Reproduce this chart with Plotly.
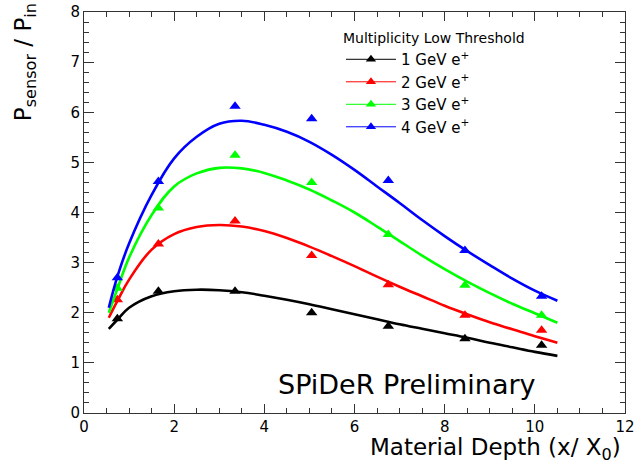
import plotly.graph_objects as go

# ---- data ----
x_pts = [0.74, 1.65, 3.35, 5.05, 6.75, 8.45, 10.15]
pts_1gev = [1.88, 2.43, 2.43, 2.00, 1.73, 1.48, 1.35]
pts_2gev = [2.26, 3.37, 3.83, 3.14, 2.56, 1.95, 1.65]
pts_3gev = [2.49, 4.09, 5.14, 4.60, 3.56, 2.55, 1.95]
pts_4gev = [2.70, 4.62, 6.12, 5.87, 4.64, 3.24, 2.33]

x_fit = [0.55, 0.75, 1.0, 1.5, 2.0, 2.5, 3.0, 3.5, 4.0, 4.5, 5.0, 5.5, 6.0, 6.5,
         7.0, 7.5, 8.0, 8.5, 9.0, 9.5, 10.0, 10.5]
fit_1gev = [1.68, 1.87, 2.10, 2.33, 2.43, 2.46, 2.45, 2.41, 2.34, 2.26, 2.17, 2.07,
            1.97, 1.87, 1.77, 1.68, 1.59, 1.50, 1.40, 1.31, 1.22, 1.14]
fit_2gev = [1.90, 2.25, 2.66, 3.26, 3.57, 3.71, 3.75, 3.72, 3.63, 3.49, 3.32, 3.13,
            2.93, 2.72, 2.52, 2.33, 2.14, 1.97, 1.81, 1.67, 1.53, 1.40]
fit_3gev = [2.00, 2.50, 3.10, 3.95, 4.52, 4.78, 4.89, 4.88, 4.79, 4.64, 4.46, 4.24,
            4.00, 3.72, 3.43, 3.14, 2.87, 2.62, 2.39, 2.18, 1.99, 1.80]
fit_4gev = [2.10, 2.75, 3.38, 4.35, 5.08, 5.51, 5.77, 5.83, 5.75, 5.61, 5.41, 5.15,
            4.85, 4.52, 4.19, 3.85, 3.53, 3.23, 2.95, 2.68, 2.44, 2.24]

series_names = ["1 GeV e<sup>+</sup>", "2 GeV e<sup>+</sup>",
                "3 GeV e<sup>+</sup>", "4 GeV e<sup>+</sup>"]
colors = ["#000000", "#ff0000", "#00ff00", "#0000ff"]

x_ticks = [0, 2, 4, 6, 8, 10, 12]
y_ticks = [0, 1, 2, 3, 4, 5, 6, 7, 8]

legend_title = "Multiplicity Low Threshold"
x_title = "Material Depth (x/ X<sub>0</sub>)"
y_title = "P<sub>sensor</sub> / P<sub>in</sub>"
watermark = "SPiDeR Preliminary"

FONT = "DejaVu Sans"

fig = go.Figure()

pts = [pts_1gev, pts_2gev, pts_3gev, pts_4gev]
fits = [fit_1gev, fit_2gev, fit_3gev, fit_4gev]

for name, col, p, f in zip(series_names, colors, pts, fits):
    fig.add_trace(go.Scatter(x=x_fit, y=f, mode="lines",
                             line=dict(color=col, width=2.6, shape="spline", smoothing=1.1),
                             showlegend=False, hoverinfo="skip"))
    fig.add_trace(go.Scatter(x=x_pts, y=p, mode="markers",
                             marker=dict(symbol="triangle-up", size=10, color=col,
                                         line=dict(width=0)),
                             showlegend=False))

for name, col in zip(series_names, colors):
    fig.add_trace(go.Scatter(x=[None], y=[None], mode="lines+markers", name=name,
                             line=dict(color=col, width=1),
                             marker=dict(symbol="triangle-up", size=9, color=col,
                                         line=dict(width=0))))

axis_common = dict(
    showline=True, linecolor="#333333", linewidth=1, mirror="ticks",
    ticks="inside", tickcolor="#333333", showgrid=False, zeroline=False,
    automargin=False,
    tickfont=dict(family=FONT, size=15, color="black"),
)

fig.update_xaxes(range=[0, 12], tickvals=x_ticks, ticklen=9,
                 minor=dict(dtick=0.5, ticks="inside", ticklen=5, tickcolor="#333333"),
                 **axis_common)
fig.update_yaxes(range=[0, 8], tickvals=y_ticks, ticklen=10,
                 minor=dict(dtick=0.2, ticks="inside", ticklen=5, tickcolor="#333333"),
                 **axis_common)

fig.add_annotation(text=x_title, xref="paper", yref="paper", x=0.997, y=-0.091,
                   xanchor="right", yanchor="middle", showarrow=False,
                   font=dict(family=FONT, size=23, color="black"))
fig.add_annotation(text=y_title, xref="paper", yref="paper", x=-0.11, y=0.876,
                   xanchor="center", yanchor="middle", textangle=-90, showarrow=False,
                   font=dict(family=FONT, size=23, color="black"))
fig.add_annotation(text=watermark, xref="x", yref="y", x=4.25, y=0.57,
                   xanchor="left", yanchor="middle", showarrow=False,
                   font=dict(family=FONT, size=27, color="black"))

fig.update_layout(
    width=639, height=464,
    margin=dict(l=84, r=14, t=12, b=51, autoexpand=False),
    plot_bgcolor="white", paper_bgcolor="white",
    legend=dict(title=dict(text=legend_title, font=dict(family=FONT, size=14, color="black")),
                font=dict(family=FONT, size=15, color="black"),
                x=0.475, y=0.968, xanchor="left", yanchor="top", itemwidth=50,
                bgcolor="rgba(0,0,0,0)", tracegroupgap=0),
)

fig.write_html("out.html", config={"displayModeBar": False},
               post_script="document.body.style.margin='0';document.body.style.overflow='hidden';")
